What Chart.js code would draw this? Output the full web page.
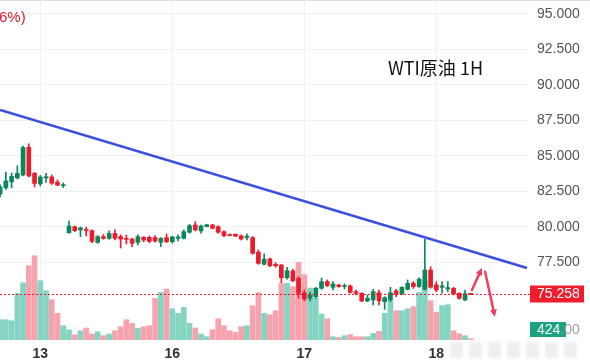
<!DOCTYPE html>
<html>
<head>
<meta charset="utf-8">
<script src="https://cdn.jsdelivr.net/npm/chart.js@4.4.1/dist/chart.umd.min.js"></script>
<style>
  html, body { margin: 0; padding: 0; background: #fff; }
  canvas { display: block; }
</style>
</head>
<body>
<canvas id="chart" width="590" height="363"></canvas>
<script>
// WTI crude 1H: candles, volume pane, falling trend line, last price marker

const openP  = [82.32, 82.75, 83.17, 83.45, 83.66, 85.60, 83.77, 83.03, 83.45, 83.52,
                83.15, 82.91, 79.60, 80.02, 79.79, 79.82, 79.74, 78.91, 79.32, 79.19,
                79.54, 79.32, 79.20, 79.15, 78.92, 79.27, 79.27, 79.25, 78.92, 79.25,
                78.96, 79.20, 79.20, 79.63, 80.14, 79.72, 80.02, 80.14, 80.02, 79.67,
                79.46, 79.49, 79.37, 79.25, 79.25, 78.22, 77.37, 77.75, 77.37, 77.32,
                76.43, 76.90, 76.39, 75.37, 74.98, 75.09, 75.68, 76.15, 75.75, 75.92,
                75.80, 75.85, 75.44, 75.33, 74.79, 74.86, 75.37, 74.74, 74.86, 75.49,
                75.28, 75.61, 76.04, 75.80, 75.61, 76.97, 75.92, 75.75, 75.63, 75.68,
                75.33, 74.86, 75.28];
const highP  = [82.96, 83.87, 83.80, 84.30, 85.70, 85.85, 83.84, 83.63, 83.77, 83.66,
                83.31, 83.10, 80.42, 80.07, 80.00, 79.98, 79.79, 79.39, 79.47, 79.72,
                79.79, 79.44, 79.44, 79.20, 79.44, 79.32, 79.37, 79.39, 79.25, 79.51,
                79.35, 79.44, 79.79, 80.19, 80.37, 80.14, 80.19, 80.19, 80.09, 79.72,
                79.51, 79.51, 79.44, 79.51, 79.32, 78.38, 78.10, 77.80, 77.49, 77.37,
                77.16, 77.02, 76.50, 75.56, 75.44, 75.75, 76.39, 76.27, 76.15, 75.96,
                75.99, 75.92, 75.56, 75.37, 75.21, 75.61, 75.56, 75.09, 75.75, 75.61,
                75.80, 76.27, 76.15, 76.43, 79.13, 77.20, 76.15, 76.15, 76.15, 75.75,
                75.37, 75.56, 75.29];
const lowP   = [82.11, 82.64, 82.75, 83.38, 83.59, 83.52, 82.82, 82.89, 83.13, 82.99,
                82.91, 82.77, 79.56, 79.67, 79.32, 79.37, 78.89, 78.85, 79.13, 79.13,
                79.08, 78.52, 78.80, 78.61, 78.73, 78.96, 78.89, 78.92, 78.61, 78.89,
                78.85, 79.01, 79.15, 79.56, 79.72, 79.56, 80.00, 79.86, 79.56, 79.32,
                79.37, 79.32, 79.08, 79.08, 78.08, 77.37, 77.32, 77.20, 77.16, 76.08,
                76.32, 76.15, 74.98, 74.81, 74.79, 74.98, 75.61, 75.80, 75.56, 75.75,
                75.63, 75.33, 75.21, 74.74, 74.74, 74.51, 74.51, 74.20, 74.74, 75.09,
                75.21, 75.56, 75.68, 75.75, 75.56, 75.68, 75.44, 75.33, 75.44, 75.21,
                74.91, 74.81, 75.24];
const closeP = [82.82, 83.24, 83.56, 83.77, 85.60, 83.59, 83.06, 83.52, 83.54, 83.08,
                82.94, 82.96, 80.07, 79.74, 79.93, 79.75, 78.98, 79.32, 79.19, 79.54,
                79.20, 79.15, 79.13, 78.85, 79.32, 79.08, 78.98, 79.01, 79.20, 78.96,
                79.30, 79.30, 79.67, 80.09, 79.79, 80.07, 80.16, 79.91, 79.63, 79.39,
                79.39, 79.35, 79.15, 79.35, 78.15, 77.44, 77.73, 77.27, 77.27, 76.43,
                76.92, 76.22, 75.33, 74.93, 75.21, 75.68, 76.15, 75.87, 75.99, 75.80,
                75.85, 75.40, 75.33, 74.79, 74.98, 75.44, 74.81, 75.02, 75.37, 75.26,
                75.75, 76.04, 75.80, 76.32, 76.97, 75.75, 75.56, 75.85, 75.73, 75.28,
                74.98, 75.30, 75.258];
const volume = [4060, 4060, 3860, 9320, 11460, 14860, 16860, 11860, 9860, 8060,
                5320, 2860, 2060, 1060, 1860, 2400, 1200, 1660, 860, 1200,
                1860, 2660, 4060, 3320, 2320, 2660, 2860, 8320, 9520, 10200,
                6260, 5320, 6520, 3320, 2400, 1200, 660, 2060, 4260, 2860,
                1860, 1520, 2660, 2860, 6860, 9460, 5320, 5060, 5860, 11320,
                11320, 10660, 15520, 13060, 10400, 8400, 5200, 4260, 660, 520,
                860, 1060, 660, 660, 660, 1320, 1720, 5320, 7860, 5860,
                5860, 6260, 6660, 9520, 11860, 7860, 5520, 6860, 7060, 1860,
                1260, 860, 260];

const dayTickIdx = [7, 30, 53, 76];
const dayLabels = ['13', '16', '17', '18'];
const priceTicks = [77.5, 80, 82.5, 85, 87.5, 90, 92.5, 95];
const lastPrice = 75.258;
const volLabel = '424';

// trend line and the two hand-drawn arrows, in (bar index, price)
const trendLine = [{ x: 0, y: 88.24 }, { x: 91.8, y: 77.11 }];
const arrowUp = [{ x: 82.2, y: 75.56 }, { x: 83.95, y: 77.11 }];
const arrowDown = [{ x: 84.5, y: 76.85 }, { x: 86.2, y: 73.68 }];

const UP = '#0c875c';
const DOWN = '#ea1b2d';
const UP_VOL = '#84d4c1';
const DOWN_VOL = '#f7a3ad';
const ARROW = '#ee3f5f';

const isUp = i => closeP[i] >= openP[i];
const idx = openP.map((_, i) => i);

function drawArrow(ctx, xs, ys, pts) {
    const x1 = xs.getPixelForValue(pts[0].x), y1 = ys.getPixelForValue(pts[0].y);
    const x2 = xs.getPixelForValue(pts[1].x), y2 = ys.getPixelForValue(pts[1].y);
    const ang = Math.atan2(y2 - y1, x2 - x1);
    const head = 8;
    ctx.strokeStyle = ARROW;
    ctx.fillStyle = ARROW;
    ctx.lineWidth = 2.5;
    ctx.lineCap = 'round';
    ctx.beginPath();
    ctx.moveTo(x1, y1);
    ctx.lineTo(x2 - Math.cos(ang) * head * 0.6, y2 - Math.sin(ang) * head * 0.6);
    ctx.stroke();
    ctx.beginPath();
    ctx.moveTo(x2, y2);
    ctx.lineTo(x2 - head * Math.cos(ang - 0.45), y2 - head * Math.sin(ang - 0.45));
    ctx.lineTo(x2 - head * Math.cos(ang + 0.45), y2 - head * Math.sin(ang + 0.45));
    ctx.closePath();
    ctx.fill();
}

const overlay = {
    id: 'overlay',
    beforeDraw(chart) {
        const ctx = chart.ctx;
        ctx.save();
        ctx.strokeStyle = '#dedede';
        ctx.lineWidth = 1;
        ctx.beginPath();
        ctx.moveTo(0, 0.5);
        ctx.lineTo(chart.width, 0.5);
        ctx.stroke();
        ctx.restore();
    },
    afterDatasetsDraw(chart) {
        const ctx = chart.ctx;
        const area = chart.chartArea;
        const xs = chart.scales.x, ys = chart.scales.y;
        ctx.save();

        // last price dotted line + marker
        const py = Math.round(ys.getPixelForValue(lastPrice)) + 0.5;
        ctx.strokeStyle = DOWN;
        ctx.lineWidth = 1;
        ctx.setLineDash([2, 2]);
        ctx.beginPath();
        ctx.moveTo(area.left, py);
        ctx.lineTo(area.right + 2, py);
        ctx.stroke();
        ctx.setLineDash([]);

        ctx.fillStyle = '#f01e2c';
        ctx.fillRect(area.right + 2, py - 9, 54, 17);
        ctx.fillStyle = '#fff';
        ctx.font = '14px "Liberation Sans", Arial, sans-serif';
        ctx.textBaseline = 'middle';
        ctx.textAlign = 'left';
        ctx.fillText(lastPrice.toFixed(3), area.right + 9, py);

        // volume label
        const vy = area.bottom - 10;
        ctx.fillStyle = '#1aa37e';
        ctx.fillRect(area.right + 2, vy - 8, 36, 15);
        ctx.fillStyle = '#fff';
        ctx.fillText(volLabel, area.right + 9, vy);
        ctx.fillStyle = '#a0a0a0';
        ctx.fillText('.00', area.right + 9 + ctx.measureText(volLabel).width, vy);

        // arrows
        drawArrow(ctx, xs, ys, arrowUp);
        drawArrow(ctx, xs, ys, arrowDown);

        // title and cut-off change text
        ctx.fillStyle = '#111';
        ctx.font = '18px "Noto Sans CJK SC", "Liberation Sans", sans-serif';
        ctx.textBaseline = 'middle';
        ctx.fillText('WTI原油 1H', area.right - 140, 68);
        ctx.fillStyle = '#e8192c';
        ctx.font = '15px "Liberation Sans", Arial, sans-serif';
        ctx.fillText('6%)', -1, 18);

        // blurred watermark band bottom right
        ctx.filter = 'blur(1.5px)';
        ctx.fillStyle = 'rgba(225,225,225,0.55)';
        for (let k = 0; k < 7; k++) {
            ctx.fillRect(450 + k * 19, 342, 13, 16);
        }
        ctx.filter = 'none';
        ctx.restore();
    }
};

new Chart(document.getElementById('chart'), {
    type: 'bar',
    data: {
        datasets: [
            {
                label: 'Volume',
                yAxisID: 'vol',
                data: idx.map(i => ({ x: i, y: volume[i] })),
                backgroundColor: idx.map(i => isUp(i) ? UP_VOL : DOWN_VOL),
                barThickness: 5,
                grouped: false,
                order: 3,
            },
            {
                label: 'Wick',
                yAxisID: 'y',
                data: idx.map(i => ({ x: i, y: [lowP[i], highP[i]] })),
                backgroundColor: idx.map(i => isUp(i) ? UP : DOWN),
                barThickness: 1,
                grouped: false,
                order: 2,
            },
            {
                label: 'Body',
                yAxisID: 'y',
                data: idx.map(i => ({ x: i, y: [openP[i], closeP[i]] })),
                backgroundColor: idx.map(i => isUp(i) ? UP : DOWN),
                barThickness: 4,
                minBarLength: 1,
                grouped: false,
                order: 1,
            },
            {
                type: 'line',
                label: 'Trend',
                yAxisID: 'y',
                data: trendLine,
                borderColor: '#3b4fe4',
                borderWidth: 2.5,
                pointRadius: 0,
                order: 0,
            },
        ],
    },
    options: {
        responsive: false,
        animation: false,
        layout: { padding: 0 },
        plugins: {
            legend: { display: false },
            tooltip: { enabled: false },
        },
        scales: {
            x: {
                type: 'linear',
                min: -0.02,
                max: 91.97,
                offset: false,
                grid: { color: '#eef0f3', drawTicks: false, offset: false },
                border: { display: false },
                afterBuildTicks: s => { s.ticks = dayTickIdx.map(v => ({ value: v })); },
                afterFit: s => { s.height = 23; s.paddingLeft = 0; s.paddingRight = 0; },
                ticks: {
                    autoSkip: false,
                    maxRotation: 0,
                    padding: 6,
                    color: '#333',
                    font: { family: '"Liberation Sans", Arial, sans-serif', size: 14, weight: 'bold' },
                    callback: v => dayLabels[dayTickIdx.indexOf(v)] ?? '',
                },
            },
            y: {
                position: 'right',
                min: 72.04,
                max: 95.98,
                grid: { color: '#f0f1f3', drawTicks: false },
                border: { display: false },
                afterBuildTicks: s => { s.ticks = priceTicks.map(v => ({ value: v })); },
                afterFit: s => { s.width = 62; s.paddingTop = 0; s.paddingBottom = 0; },
                ticks: {
                    padding: 9,
                    color: '#555',
                    font: { family: '"Liberation Sans", Arial, sans-serif', size: 14 },
                    callback: v => Number(v).toFixed(3),
                },
            },
            vol: {
                display: false,
                min: 0,
                max: 68000,
            },
        },
    },
    plugins: [overlay],
});
</script>
</body>
</html>
